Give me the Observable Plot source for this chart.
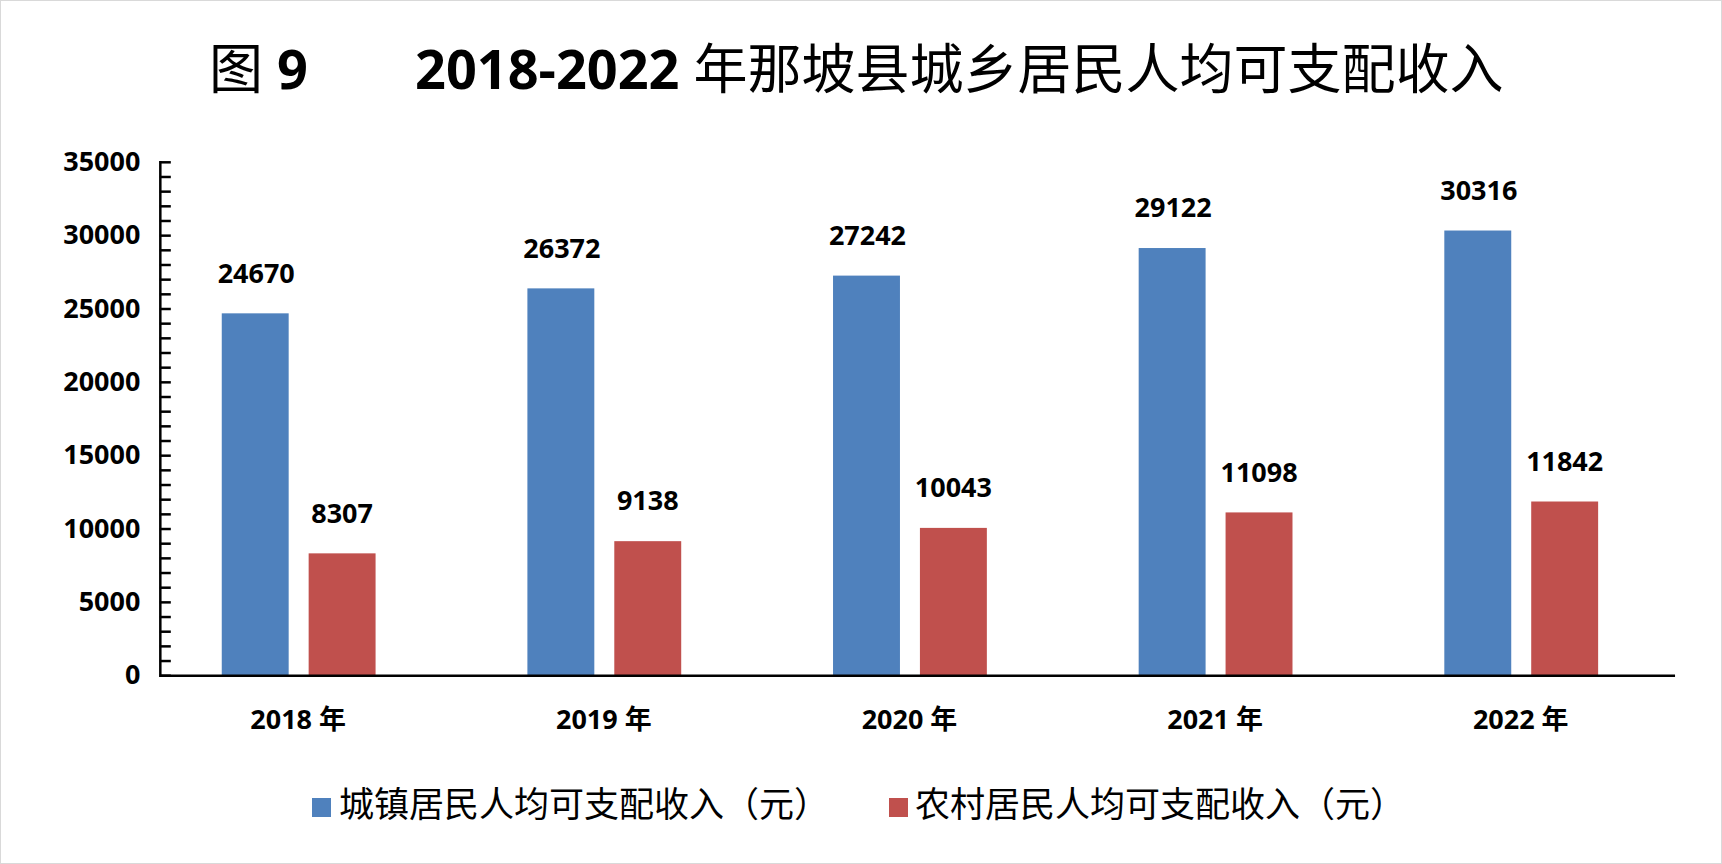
<!DOCTYPE html>
<html><head><meta charset="utf-8">
<script src="https://cdn.jsdelivr.net/npm/d3@7"></script>
<script src="https://cdn.jsdelivr.net/npm/@observablehq/plot@0.6"></script>
<style>
body{margin:0;background:#fff;font-family:"Open Sans","Noto Sans CJK SC",sans-serif;}
#wrap{position:relative;width:1720px;height:862px;border:1px solid #d9d9d9;overflow:hidden}
#chart{position:absolute;left:0;top:0}
.t{position:absolute;font-weight:bold;font-size:54px;color:#000;white-space:nowrap;font-family:"Open Sans","Noto Sans CJK SC",sans-serif;line-height:1}
.lg{position:absolute;font-size:35px;white-space:nowrap;font-family:"Noto Sans CJK SC",sans-serif;top:780px;line-height:1.2}
.sw{position:absolute;width:19px;height:19px;top:797px}
</style></head><body>
<div id="wrap">
<div id="chart"></div>
<div class="t" style="left:208px;top:38px"><span style="font-family:'Noto Sans CJK SC';font-weight:normal">图</span> 9</div>
<div class="t" style="left:414px;top:38px">2018-2022 <span style="font-family:'Noto Sans CJK SC';font-weight:normal">年那坡县城乡居民人均可支配收入</span></div>
<div class="sw" style="left:311px;background:#4F81BD"></div>
<div class="lg" style="left:338px">城镇居民人均可支配收入（元）</div>
<div class="sw" style="left:888px;background:#C0504D"></div>
<div class="lg" style="left:914px">农村居民人均可支配收入（元）</div>
</div>
<script>
const years = ["2018 年","2019 年","2020 年","2021 年","2022 年"];
const urban = [24670, 26372, 27242, 29122, 30316];
const rural = [8307, 9138, 10043, 11098, 11842];
const U = years.map((y,i)=>({year:y, v:urban[i]}));
const R = years.map((y,i)=>({year:y, v:rural[i]}));
const lblFont = {fontSize:27, fontWeight:"bold", fontFamily:"Open Sans"};
const svg = Plot.plot({
  width:1722, height:864,
  marginLeft:159, marginRight:46, marginTop:161, marginBottom:189,
  x:{domain:years, range:[143,1675], padding:0, label:null},
  y:{domain:[0,35000], label:null},
  style:{fontFamily:"Open Sans, Noto Sans CJK SC"},
  marks:[
    Plot.barY(U,{x:"year", y:"v", fill:"#4F81BD", insetLeft:77, insetRight:162}),
    Plot.barY(R,{x:"year", y:"v", fill:"#C0504D", insetLeft:164, insetRight:75}),
    Plot.text(U,{x:"year", y:"v", text:d=>String(d.v), dx:-42, dy:-40, ...lblFont, fill:"#000"}),
    Plot.text(R,{x:"year", y:"v", text:d=>String(d.v), dx:44, dy:-40, ...lblFont, fill:"#000"}),
    Plot.axisY({ticks:d3.range(0,35001,1000), tickSize:-11, tickFormat:()=>"", strokeWidth:2.5, stroke:"#000"}),
    Plot.axisY({ticks:d3.range(0,35001,5000), tickSize:0, tickPadding:20, tickFormat:d=>String(d), ...lblFont, fill:"#000"}),
    Plot.frame({anchor:"left", strokeWidth:2.5}),
    Plot.ruleY([0],{strokeWidth:2.5}),
    Plot.axisX({tickSize:0, tickPadding:34, fontSize:27, fontWeight:"bold", fill:"#000", fontFamily:"Open Sans, Noto Sans CJK SC"})
  ]
});
document.getElementById("chart").append(svg);
</script></body></html>
